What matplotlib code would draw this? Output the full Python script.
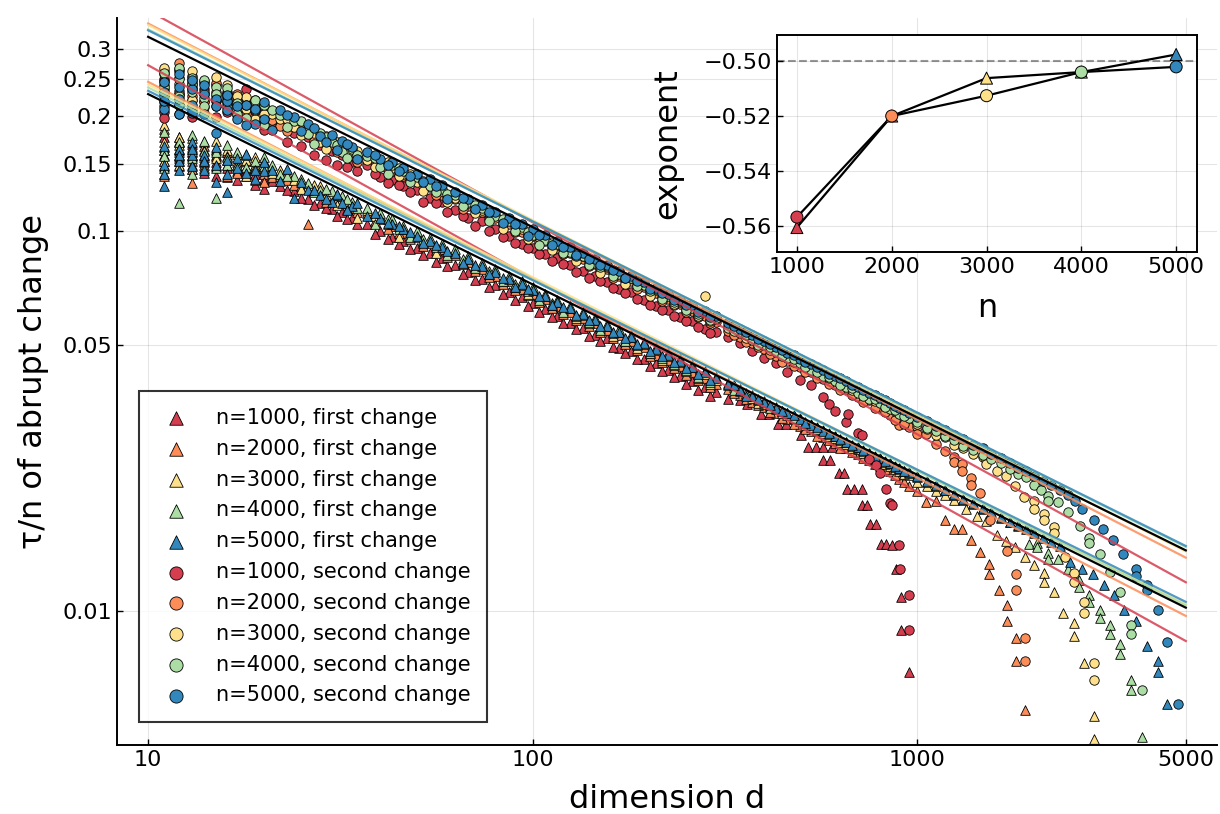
import matplotlib.pyplot as plt
import numpy as np

n_values = [1000, 2000, 3000, 4000, 5000]
colors = ["#d53e4f", "#fc8d59", "#fee08b", "#abdda4", "#3288bd"]

# dimensions shared by every run (repeated d = repeated trials)
d_low = [11, 11, 11, 12, 12, 12, 13, 13, 13, 14, 14, 15, 15, 16, 16,
         17, 18, 19, 20, 21, 22, 24, 26, 28, 30,
         32, 34, 37, 40, 43, 46, 50, 54, 58, 63,
         68, 74, 80, 87, 94, 100, 108, 116, 125, 135,
         145, 156, 168, 180, 195, 210, 225, 242, 260, 280,
         300]
d_low2 = [11, 12, 13, 14, 15, 16, 17, 18, 19, 20,
          23, 25, 27, 29, 31, 33, 35, 39, 42, 45,
          48, 52, 56, 60, 66, 71, 77, 84, 90, 97,
          104, 112, 120, 130, 140, 150, 162, 174, 187, 202,
          217, 233, 251, 270, 290]
d_mid = [322, 346, 372, 400, 430, 460, 495, 530, 570, 610, 655, 700, 750,
         800, 850, 900, 950]
d_mid2 = [335, 360, 386, 415, 445, 478, 512, 550, 590, 632, 678, 725, 775,
          825, 875, 925]

# first change (tau/n), n = 1000 ... 5000
first_1000_low = [.141, .158, .176, .148, .163, .172, .145, .158, .169, .151, .171, .139, .158, .146, .161,
                  .143, .139, .141, .137, .135, .131, .127, .121, .118, .114,
                  .112, .108, .104, .0998, .0962, .0941, .0902, .0871, .0845, .0812,
                  .0779, .0748, .0721, .0689, .0668, .0644, .0621, .0598, .0573, .0556,
                  .0532, .0521, .0492, .0482, .0461, .0448, .0429, .0416, .0402, .0389,
                  .0376]
first_1000_low2 = [.152, .155, .161, .142, .151, .138, .136, .144, .132, .129,
                   .128, .122, .117, .115, .109, .107, .104, .0982, .0951, .0923,
                   .0894, .0861, .0829, .0807, .0768, .0741, .0712, .0681, .0659, .0634,
                   .0612, .0593, .0571, .0552, .0529, .0513, .0494, .0476, .0459, .0442,
                   .0427, .0412, .0396, .0382, .0368]
first_1000_tail_d = [322, 346, 362, 392, 412, 435, 455, 500, 519, 545, 570, 600, 570, 595, 625,
                     647, 659, 685, 720, 720, 740, 755, 780, 805, 830, 860, 880, 910, 910, 953]
first_1000_tail = [.0362, .0358, .0350, .0330, .0330, .0310, .0310, .0290, .0270, .0270, .0270, .0270,
                   .0250, .0250, .0231, .0231, .0210, .0210, .0210, .0190, .0190, .0169, .0169,
                   .0150, .0150, .0149, .0129, .0109, .0089, .0069]

first_2000_low = [.148, .166, .185, .152, .171, .176, .133, .152, .164, .158, .167, .148, .164, .139, .153,
                  .151, .146, .136, .141, .138, .139, .132, .104, .127, .121,
                  .118, .115, .111, .107, .103, .0986, .0962, .0925, .0893, .0862,
                  .0825, .0795, .0762, .0735, .0703, .0683, .0661, .0633, .0612, .0589,
                  .0571, .0548, .0531, .0512, .0493, .0472, .0458, .0441, .0425, .0411,
                  .0396]
first_2000_low2 = [.139, .161, .145, .149, .157, .161, .142, .152, .149, .134,
                   .136, .131, .127, .119, .121, .114, .112, .106, .101, .0985,
                   .0951, .0912, .0889, .0851, .0815, .0782, .0757, .0724, .0698, .0676,
                   .0648, .0627, .0603, .0581, .0562, .0541, .0521, .0503, .0486, .0467,
                   .0451, .0436, .0418, .0404, .0389]
first_2000_mid = [.0383, .0369, .0355, .0343, .0331, .0319, .0307, .0298, .0287, .0277, .0268,
                  .0259, .0249, .0241, .0234, .0222, .0213]
first_2000_mid2 = [.0374, .0362, .0349, .0333, .0322, .0311, .0301, .0289, .0281, .0269, .0262,
                   .0252, .0243, .0236, .0228, .0218]
first_2000_tail_d = [1000, 1055, 1123, 1182, 1247, 1310, 1385, 1460, 1540, 1540, 1630, 1718, 1718,
                     1812, 1812, 1906]
first_2000_tail = [.0207, .0193, .0195, .0174, .0164, .0164, .0154, .0143, .0133, .0125, .0114,
                   .0104, .0094, .0085, .0074, .0055]

first_3000_low = [.152, .171, .189, .158, .168, .176, .149, .162, .175, .146, .163, .155, .172, .149, .163,
                  .159, .153, .149, .152, .142, .144, .136, .131, .131, .124,
                  .121, .118, .113, .109, .106, .101, .0981, .0944, .0912, .0881,
                  .0847, .0811, .0783, .0752, .0721, .0699, .0672, .0648, .0626, .0601,
                  .0583, .0562, .0541, .0524, .0503, .0485, .0468, .0452, .0437, .0421,
                  .0406]
first_3000_low2 = [.163, .149, .157, .156, .163, .157, .148, .139, .156, .146,
                   .142, .129, .132, .124, .117, .119, .108, .109, .104, .0962,
                   .0978, .0934, .0872, .0876, .0829, .0806, .0769, .0738, .0712, .0681,
                   .0665, .0638, .0617, .0589, .0571, .0556, .0529, .0514, .0492, .0478,
                   .0458, .0444, .0427, .0411, .0396]
first_3000_mid = [.0392, .0378, .0364, .0351, .0339, .0327, .0316, .0305, .0294, .0285, .0275,
                  .0266, .0257, .0248, .0241, .0234, .0228]
first_3000_mid2 = [.0389, .0371, .0352, .0347, .0331, .0322, .0308, .0299, .0289, .0278, .0268,
                   .0261, .0251, .0243, .0237, .0229]
first_3000_tail_d = [1000, 1060, 1120, 1180, 1250, 1340, 1430, 1514, 1610, 1700, 1800, 1910, 2020,
                     2140, 2140, 2270, 2400, 2560, 2560, 2720, 2880, 2880]
first_3000_tail = [.0219, .0213, .0207, .0202, .0196, .0185, .0178, .0173, .0159, .0153, .0147,
                   .0139, .0132, .0126, .0119, .0112, .0099, .0093, .0086, .0073, .0053, .0046]

first_4000_low = [.146, .163, .182, .118, .157, .171, .155, .166, .178, .153, .172, .122, .161, .156, .168,
                  .149, .158, .146, .148, .149, .141, .139, .133, .128, .127,
                  .123, .119, .115, .111, .107, .103, .0995, .0958, .0921, .0893,
                  .0856, .0822, .0794, .0762, .0735, .0709, .0683, .0659, .0634, .0612,
                  .0591, .0569, .0552, .0532, .0511, .0493, .0476, .0460, .0443, .0428,
                  .0412]
first_4000_low2 = [.157, .164, .141, .162, .146, .149, .161, .147, .152, .156,
                   .139, .137, .126, .129, .124, .121, .115, .104, .107, .101,
                   .0963, .0951, .0905, .0861, .0842, .0798, .0781, .0735, .0724, .0692,
                   .0659, .0646, .0612, .0598, .0574, .0549, .0538, .0512, .0499, .0476,
                   .0463, .0446, .0431, .0413, .0401]
first_4000_mid = [.0397, .0384, .0370, .0356, .0344, .0332, .0321, .0310, .0299, .0289, .0279,
                  .0270, .0261, .0252, .0245, .0238, .0231]
first_4000_mid2 = [.0381, .0375, .0359, .0341, .0336, .0321, .0314, .0301, .0292, .0282, .0271,
                   .0264, .0253, .0247, .0239, .0233]
first_4000_tail_d = [1000, 1060, 1120, 1180, 1250, 1320, 1400, 1480, 1560, 1650, 1740, 1830,
                     1960, 1960, 2050, 2050, 2190, 2190, 2330, 2470, 2640, 2640, 2800, 2800,
                     2985, 2985, 3170, 3170, 3370, 3370, 3600, 3600, 3840]
first_4000_tail = [.0225, .0219, .0213, .0208, .0202, .0196, .0191, .0186, .0181, .0176, .0171, .0167,
                   .0164, .0150, .0151, .0147, .0142, .0137, .0137, .0129, .0121, .0116, .0110, .0106,
                   .0101, .0096, .0092, .0087, .0082, .0077, .0066, .0062, .00468]

first_5000_low = [.131, .149, .167, .144, .152, .164, .148, .158, .171, .144, .158, .134, .149, .126, .141,
                  .146, .142, .137, .143, .144, .135, .122, .128, .124, .119,
                  .118, .116, .109, .108, .104, .101, .0968, .0941, .0908, .0871,
                  .0843, .0806, .0779, .0748, .0722, .0697, .0673, .0649, .0626, .0604,
                  .0583, .0563, .0543, .0526, .0506, .0488, .0472, .0455, .0439, .0424,
                  .0409]
first_5000_low2 = [.141, .158, .164, .152, .166, .153, .155, .159, .144, .151,
                   .145, .134, .128, .121, .125, .113, .118, .111, .105, .103,
                   .0992, .0928, .0917, .0884, .0821, .0813, .0768, .0752, .0709, .0701,
                   .0674, .0639, .0628, .0601, .0583, .0562, .0541, .0522, .0503, .0484,
                   .0467, .0451, .0436, .0419, .0404]
first_5000_mid = [.0396, .0382, .0368, .0355, .0342, .0331, .0319, .0309, .0298, .0288, .0279,
                  .0270, .0261, .0253, .0245, .0238, .0232]
first_5000_mid2 = [.0392, .0368, .0361, .0349, .0335, .0327, .0312, .0305, .0293, .0283, .0274,
                   .0265, .0256, .0248, .0241, .0234]
first_5000_tail_d = [1000, 1060, 1120, 1180, 1250, 1320, 1400, 1480, 1560, 1650, 1740, 1830, 1920,
                     2020, 2120, 2230, 2350, 2500, 2690, 2870, 3060, 3250, 3450, 3700, 3960,
                     4230, 4230, 4480]
first_5000_tail = [.0226, .0220, .0214, .0208, .0203, .0197, .0192, .0187, .0182, .0177, .0172,
                   .0168, .0164, .0160, .0156, .0152, .0148, .0135, .0129, .0125, .0117, .0110,
                   .0101, .0094, .0081, .0074, .0069, .0057]

# second change (tau/n)
second_1000_low = [.205, .232, .251, .203, .228, .262, .199, .221, .243, .204, .236, .212, .241, .205, .228,
                   .214, .236, .206, .197, .188, .193, .181, .176, .168, .162,
                   .158, .151, .149, .138, .136, .131, .128, .122, .119, .113,
                   .108, .106, .101, .0968, .0921, .0902, .0868, .0845, .0812, .0785,
                   .0759, .0733, .0702, .0689, .0658, .0634, .0617, .0593, .0578, .0553,
                   .0542]
second_1000_low2 = [.198, .214, .211, .219, .199, .218, .201, .213, .193, .184,
                    .171, .167, .158, .153, .149, .147, .143, .141, .133, .132,
                    .126, .119, .118, .112, .109, .103, .0995, .0962, .0928, .0901,
                    .0869, .0832, .0815, .0779, .0752, .0738, .0706, .0684, .0662, .0638,
                    .0619, .0598, .0577, .0559, .0537]
second_1000_tail_d = [322, 346, 372, 400, 430, 460, 495, 530, 570, 590, 610, 655, 660, 700, 720,
                      750, 780, 800, 830, 850, 860, 900, 902, 950, 953]
second_1000_tail = [.0525, .0506, .0482, .0462, .0448, .0425, .0405, .0393, .0366, .0351, .0335,
                    .0315, .0330, .0294, .0290, .0251, .0242, .0231, .0210, .0192, .0190, .0149,
                    .0129, .0110, .0089]

second_2000_low = [.213, .247, .262, .221, .252, .275, .209, .238, .255, .218, .247, .226, .244, .214, .232,
                   .219, .203, .211, .205, .195, .188, .191, .182, .174, .169,
                   .163, .158, .156, .149, .143, .139, .135, .130, .124, .121,
                   .116, .112, .108, .104, .0993, .0965, .0938, .0902, .0871, .0843,
                   .0815, .0792, .0762, .0738, .0712, .0684, .0662, .0641, .0614, .0597,
                   .0574]
second_2000_low2 = [.236, .233, .226, .229, .219, .223, .229, .216, .221, .197,
                    .183, .186, .172, .177, .161, .166, .151, .152, .144, .141,
                    .136, .131, .124, .123, .114, .113, .107, .104, .0992, .0974,
                    .0932, .0907, .0868, .0851, .0809, .0789, .0751, .0738, .0703, .0684,
                    .0655, .0636, .0611, .0592, .0571]
second_2000_mid = [.0545, .0526, .0507, .0489, .0468, .0455, .0437, .0425, .0407, .0394, .0383,
                   .0366, .0358, .0342, .0327, .0309, .0304]
second_2000_mid2 = [.0531, .0509, .0493, .0474, .0452, .0441, .0424, .0409, .0396, .0381, .0369,
                    .0354, .0342, .0333, .0317, .0311]
second_2000_tail_d = [1000, 1000, 1055, 1123, 1182, 1247, 1247, 1310, 1310, 1385, 1385, 1460, 1546,
                      1718, 1812, 1812, 1906, 1906]
second_2000_tail = [.0304, .0292, .0292, .0275, .0264, .0254, .0246, .0243, .0234, .0224, .0215,
                    .0204, .0174, .0144, .0125, .0114, .0085, .0074]

second_3000_low = [.226, .258, .268, .214, .243, .266, .221, .247, .262, .211, .232, .232, .253, .219, .241,
                   .209, .224, .196, .213, .202, .196, .187, .186, .171, .174,
                   .167, .161, .153, .152, .146, .141, .134, .133, .127, .122,
                   .118, .113, .110, .107, .101, .0987, .0951, .0917, .0889, .0856,
                   .0829, .0801, .0779, .0749, .0724, .0699, .0676, .0651, .0632, .0675,
                   .0587]
second_3000_low2 = [.241, .229, .235, .244, .221, .229, .226, .209, .218, .203,
                    .196, .178, .181, .164, .171, .159, .162, .147, .151, .139,
                    .141, .127, .129, .119, .119, .111, .111, .101, .103, .0952,
                    .0961, .0889, .0897, .0832, .0827, .0776, .0772, .0726, .0721, .0672,
                    .0669, .0642, .0623, .0597, .0579]
second_3000_mid = [.0561, .0545, .0522, .0503, .0486, .0468, .0452, .0438, .0420, .0406, .0396,
                   .0379, .0368, .0354, .0342, .0336, .0324]
second_3000_mid2 = [.0552, .0521, .0509, .0487, .0474, .0452, .0441, .0428, .0409, .0398, .0381,
                    .0371, .0356, .0348, .0336, .0327]
second_3000_tail_d = [1000, 1060, 1120, 1180, 1250, 1320, 1400, 1480, 1514, 1514, 1610, 1700, 1800,
                      1900, 2020, 2020, 2140, 2140, 2270, 2270, 2420, 2560, 2560, 2720, 2720,
                      2880, 2880]
second_3000_tail = [.0310, .0301, .0291, .0286, .0273, .0268, .0259, .0254, .0249, .0244, .0234,
                    .0227, .0213, .0199, .0195, .0185, .0180, .0174, .0166, .0160, .0139, .0126,
                    .0119, .0106, .0099, .0073, .0066]

second_4000_low = [.218, .238, .259, .226, .251, .268, .205, .231, .252, .223, .249, .221, .238, .226, .237,
                   .217, .198, .221, .189, .207, .201, .194, .179, .181, .171,
                   .161, .164, .157, .147, .149, .143, .138, .131, .129, .124,
                   .119, .115, .109, .106, .102, .0975, .0946, .0921, .0878, .0859,
                   .0823, .0805, .0769, .0752, .0719, .0703, .0672, .0653, .0627, .0611,
                   .0589]
second_4000_low2 = [.227, .214, .243, .212, .229, .211, .203, .214, .207, .214,
                    .187, .194, .169, .176, .168, .155, .158, .155, .141, .146,
                    .134, .135, .126, .125, .116, .117, .106, .107, .0996, .0989,
                    .0918, .0925, .0871, .0859, .0812, .0803, .0759, .0749, .0715, .0693,
                    .0661, .0648, .0617, .0603, .0582]
second_4000_mid = [.0556, .0539, .0517, .0499, .0481, .0463, .0448, .0431, .0416, .0402, .0389,
                   .0375, .0362, .0352, .0340, .0330, .0322]
second_4000_mid2 = [.0545, .0531, .0502, .0493, .0469, .0459, .0437, .0426, .0412, .0394, .0387,
                    .0368, .0361, .0343, .0338, .0326]
second_4000_tail_d = [1000, 1060, 1120, 1180, 1250, 1320, 1400, 1480, 1560, 1650, 1740, 1830, 1920,
                      2020, 2100, 2190, 2190, 2330, 2470, 2650, 2800, 2800, 2985, 3170, 3370,
                      3600, 3600, 3840]
second_4000_tail = [.0314, .0303, .0297, .0288, .0281, .0271, .0265, .0258, .0251, .0245, .0236,
                    .0230, .0225, .0214, .0208, .0201, .0195, .0193, .0182, .0167, .0156, .0151,
                    .0141, .0127, .0112, .0092, .0087, .0062]

second_5000_low = [.209, .231, .246, .203, .239, .258, .214, .236, .249, .202, .228, .181, .222, .208, .219,
                   .197, .214, .191, .218, .184, .207, .199, .191, .177, .178,
                   .172, .166, .161, .154, .151, .146, .141, .137, .132, .126,
                   .121, .117, .112, .108, .104, .101, .0973, .0939, .0907, .0871,
                   .0843, .0812, .0785, .0759, .0733, .0706, .0683, .0659, .0638, .0616,
                   .0597]
second_5000_low2 = [.219, .222, .204, .241, .213, .227, .212, .189, .209, .196,
                    .201, .183, .186, .171, .163, .169, .154, .158, .149, .143,
                    .139, .134, .131, .121, .122, .114, .112, .105, .104, .0967,
                    .0975, .0918, .0903, .0862, .0844, .0811, .0789, .0752, .0738, .0703,
                    .0684, .0659, .0638, .0612, .0594]
second_5000_mid = [.0571, .0553, .0531, .0512, .0495, .0478, .0461, .0446, .0430, .0416, .0402,
                   .0388, .0375, .0363, .0352, .0342, .0332]
second_5000_mid2 = [.0561, .0542, .0518, .0503, .0486, .0470, .0452, .0438, .0421, .0409, .0394,
                    .0381, .0369, .0358, .0347, .0338]
second_5000_tail_d = [1000, 1060, 1120, 1180, 1250, 1320, 1400, 1480, 1560, 1650, 1740, 1830, 1920,
                      2020, 2120, 2230, 2350, 2470, 2580, 2685, 2880, 3050, 3240, 3440, 3700,
                      3700, 3960, 3960, 4230, 4480, 4780]
second_5000_tail = [.0323, .0316, .0307, .0299, .0291, .0283, .0274, .0268, .0259, .0252, .0245,
                    .0238, .0233, .0226, .0220, .0214, .0208, .0202, .0195, .0185, .0174, .0164,
                    .0154, .0141, .0129, .0124, .0117, .0114, .0101, .0083, .0057]

# power-law fits tau/n = c * (d/10)^exponent
exp_first = [-0.5606, -0.5200, -0.5062, -0.5040, -0.4976]
exp_second = [-0.5568, -0.5200, -0.5126, -0.5040, -0.5021]
c_first = [0.272, 0.246, 0.242, 0.2377, 0.233]
c_second = [0.379, 0.350, 0.347, 0.338, 0.336]
c_sqrt = [0.2284, 0.323]  # d^-1/2 guides
d_fit = np.array([10, 5000])

d_body = d_low + d_low2
d_body_mid = d_body + d_mid + d_mid2
first_d = [d_body + first_1000_tail_d,
           d_body_mid + first_2000_tail_d,
           d_body_mid + first_3000_tail_d,
           d_body_mid + first_4000_tail_d,
           d_body_mid + first_5000_tail_d]
first_y = [first_1000_low + first_1000_low2 + first_1000_tail,
           first_2000_low + first_2000_low2 + first_2000_mid + first_2000_mid2 + first_2000_tail,
           first_3000_low + first_3000_low2 + first_3000_mid + first_3000_mid2 + first_3000_tail,
           first_4000_low + first_4000_low2 + first_4000_mid + first_4000_mid2 + first_4000_tail,
           first_5000_low + first_5000_low2 + first_5000_mid + first_5000_mid2 + first_5000_tail]
second_d = [d_body + second_1000_tail_d,
            d_body_mid + second_2000_tail_d,
            d_body_mid + second_3000_tail_d,
            d_body_mid + second_4000_tail_d,
            d_body_mid + second_5000_tail_d]
second_y = [second_1000_low + second_1000_low2 + second_1000_tail,
            second_2000_low + second_2000_low2 + second_2000_mid + second_2000_mid2 + second_2000_tail,
            second_3000_low + second_3000_low2 + second_3000_mid + second_3000_mid2 + second_3000_tail,
            second_4000_low + second_4000_low2 + second_4000_mid + second_4000_mid2 + second_4000_tail,
            second_5000_low + second_5000_low2 + second_5000_mid + second_5000_mid2 + second_5000_tail]

plt.rcParams['font.family'] = 'DejaVu Sans'
fig = plt.figure(figsize=(12.2, 8.14), dpi=100)
ax = fig.add_axes([0.0959, 0.0848, 0.9016, 0.8931])

for i, n in enumerate(n_values):
    ax.scatter(first_d[i], first_y[i], marker='^', s=48, color=colors[i],
               edgecolors='black', linewidths=0.6, zorder=2,
               label='n=%d, first change' % n)
for i, n in enumerate(n_values):
    ax.scatter(second_d[i], second_y[i], marker='o', s=46, color=colors[i],
               edgecolors='black', linewidths=0.6, zorder=2,
               label='n=%d, second change' % n)

for i in range(5):
    ax.plot(d_fit, c_first[i] * (d_fit / 10.0) ** exp_first[i], color=colors[i],
            lw=1.6, alpha=0.85, zorder=3)
    ax.plot(d_fit, c_second[i] * (d_fit / 10.0) ** exp_second[i], color=colors[i],
            lw=1.6, alpha=0.85, zorder=3)
for c in c_sqrt:
    ax.plot(d_fit, c * (d_fit / 10.0) ** -0.5, color='black', lw=1.6, zorder=3)

ax.set_xscale('log')
ax.set_yscale('log')
ax.set_xlim(10 ** 0.919, 10 ** 3.78)
ax.set_ylim(0.00445, 0.362)
ax.set_xticks([10, 100, 1000, 5000])
ax.set_xticklabels(['10', '100', '1000', '5000'])
ax.set_yticks([0.01, 0.05, 0.1, 0.15, 0.2, 0.25, 0.3])
ax.set_yticklabels(['0.01', '0.05', '0.1', '0.15', '0.2', '0.25', '0.3'])
ax.minorticks_off()
ax.tick_params(direction='in', length=4, width=1, labelsize=16)
ax.spines['top'].set_visible(False)
ax.spines['right'].set_visible(False)
ax.spines['left'].set_linewidth(1.4)
ax.spines['bottom'].set_linewidth(1.4)
ax.grid(True, color='black', alpha=0.1, lw=0.8)
ax.set_axisbelow(True)
ax.set_xlabel('dimension d', fontsize=23)
ax.set_ylabel('τ/n of abrupt change', fontsize=23)
ax.xaxis.set_label_coords(0.5, -0.053)
ax.yaxis.set_label_coords(-0.062, 0.5)

leg = ax.legend(loc='lower left', bbox_to_anchor=(0.02, 0.0316), borderaxespad=0,
                fontsize=15, frameon=True, fancybox=False, edgecolor='black',
                labelspacing=0.52, handletextpad=0.9, borderpad=0.8, markerscale=1.4)
leg.get_frame().set_linewidth(1.5)

# inset: fitted exponents against n
ins = fig.add_axes([777 / 1220, (814 - 252) / 814, 420 / 1220, 217 / 814])
ins.axhline(-0.5, color='#999999', ls='--', lw=1.5, zorder=1)
ins.plot(n_values, exp_first, color='black', lw=1.6, zorder=2)
ins.plot(n_values, exp_second, color='black', lw=1.6, zorder=2)
ins.scatter(n_values, exp_first, marker='^', s=75, c=colors, edgecolors='black',
            linewidths=0.7, zorder=3)
ins.scatter(n_values, exp_second, marker='o', s=75, c=colors, edgecolors='black',
            linewidths=0.7, zorder=3)
ins.set_xlim(790, 5220)
ins.set_ylim(-0.5695, -0.4905)
ins.set_xticks(n_values)
ins.set_yticks([-0.56, -0.54, -0.52, -0.50])
ins.set_yticklabels(['\u22120.56', '\u22120.54', '\u22120.52', '\u22120.50'])
ins.tick_params(direction='in', length=4, width=1, labelsize=16)
for sp in ins.spines.values():
    sp.set_linewidth(1.4)
ins.grid(True, color='black', alpha=0.1, lw=0.8)
ins.set_xlabel('n', fontsize=23)
ins.set_ylabel('exponent', fontsize=23)
ins.xaxis.set_label_coords(0.5, -0.19)
ins.yaxis.set_label_coords(-0.224, 0.5)

fig.savefig('out.png', dpi=100)
